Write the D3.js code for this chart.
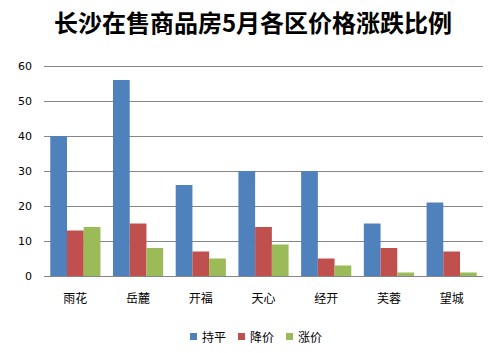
<!DOCTYPE html>
<html>
<head>
<meta charset="utf-8">
<script src="https://cdn.jsdelivr.net/npm/d3@7"></script>
<style>
  body { margin: 0; background: #fff; }
  svg { display: block; }
</style>
</head>
<body>
<div id="viz"></div>
<script>
// chart data
var districts = ["雨花", "岳麓", "开福", "天心", "经开", "芙蓉", "望城"];
var seriesNames = ["持平", "降价", "涨价"];
var flat = [40, 56, 26, 30, 30, 15, 21];
var down = [13, 15, 7, 14, 5, 8, 7];
var up = [14, 8, 5, 9, 3, 1, 1];
var yTicks = [0, 10, 20, 30, 40, 50, 60];
var colors = ["#4F81BD", "#C0504D", "#9BBB59"];

var W = 502, H = 353;
var plotLeft = 44, plotRight = 483, plotTop = 66, plotBottom = 276;

var svg = d3.select("#viz").append("svg")
    .attr("width", W)
    .attr("height", H);

var x = d3.scaleBand().domain(districts).range([plotLeft, plotRight]);
var y = d3.scaleLinear().domain([0, 60]).range([plotBottom, plotTop]);
var barW = x.bandwidth() / 3.75;
var x1 = d3.scaleBand().domain(seriesNames)
    .range([x.bandwidth() / 2 - 1.5 * barW, x.bandwidth() / 2 + 1.5 * barW]);

// title
svg.append("text")
    .attr("x", W / 2 + 2)
    .attr("y", 32)
    .attr("text-anchor", "middle")
    .style("font-family", "'Noto Sans CJK SC', sans-serif")
    .style("font-weight", "bold")
    .style("font-size", "24px")
    .text("长沙在售商品房5月各区价格涨跌比例");

// grid lines
svg.append("g").selectAll("line")
    .data(yTicks)
    .join("line")
    .attr("x1", plotLeft).attr("x2", plotRight)
    .attr("y1", d => Math.round(y(d)) + 0.5)
    .attr("y2", d => Math.round(y(d)) + 0.5)
    .attr("stroke", "#868686")
    .attr("stroke-width", 1);

// y axis labels
svg.append("g").selectAll("text")
    .data(yTicks)
    .join("text")
    .attr("x", 32)
    .attr("y", d => y(d))
    .attr("dy", "0.35em")
    .attr("text-anchor", "end")
    .style("font-family", "'DejaVu Sans', sans-serif")
    .style("font-size", "11px")
    .text(d => d);

// bars
var table = districts.map(function(d, i) {
    return { name: d, vals: [flat[i], down[i], up[i]] };
});

var groups = svg.append("g").selectAll("g")
    .data(table)
    .join("g")
    .attr("transform", d => "translate(" + x(d.name) + ",0)");

groups.selectAll("rect")
    .data(d => d.vals.map((v, k) => ({ s: seriesNames[k], v: v, k: k })))
    .join("rect")
    .attr("x", d => x1(d.s))
    .attr("width", x1.bandwidth())
    .attr("y", d => y(d.v))
    .attr("height", d => plotBottom - y(d.v))
    .attr("fill", d => colors[d.k]);

// category labels
svg.append("g").selectAll("text")
    .data(districts)
    .join("text")
    .attr("x", d => x(d) + x.bandwidth() / 2)
    .attr("y", 303)
    .attr("text-anchor", "middle")
    .style("font-family", "'Noto Sans CJK SC', sans-serif")
    .style("font-size", "12px")
    .text(d => d);

// legend
var legendX = [190, 238, 286];
var legend = svg.append("g").selectAll("g")
    .data(seriesNames)
    .join("g")
    .attr("transform", (d, i) => "translate(" + legendX[i] + ",333)");
legend.append("rect")
    .attr("width", 7).attr("height", 7)
    .attr("fill", (d, i) => colors[i]);
legend.append("text")
    .attr("x", 12)
    .attr("y", 4)
    .attr("dy", "0.38em")
    .style("font-family", "'Noto Sans CJK SC', sans-serif")
    .style("font-size", "12px")
    .text(d => d);
</script>
</body>
</html>
